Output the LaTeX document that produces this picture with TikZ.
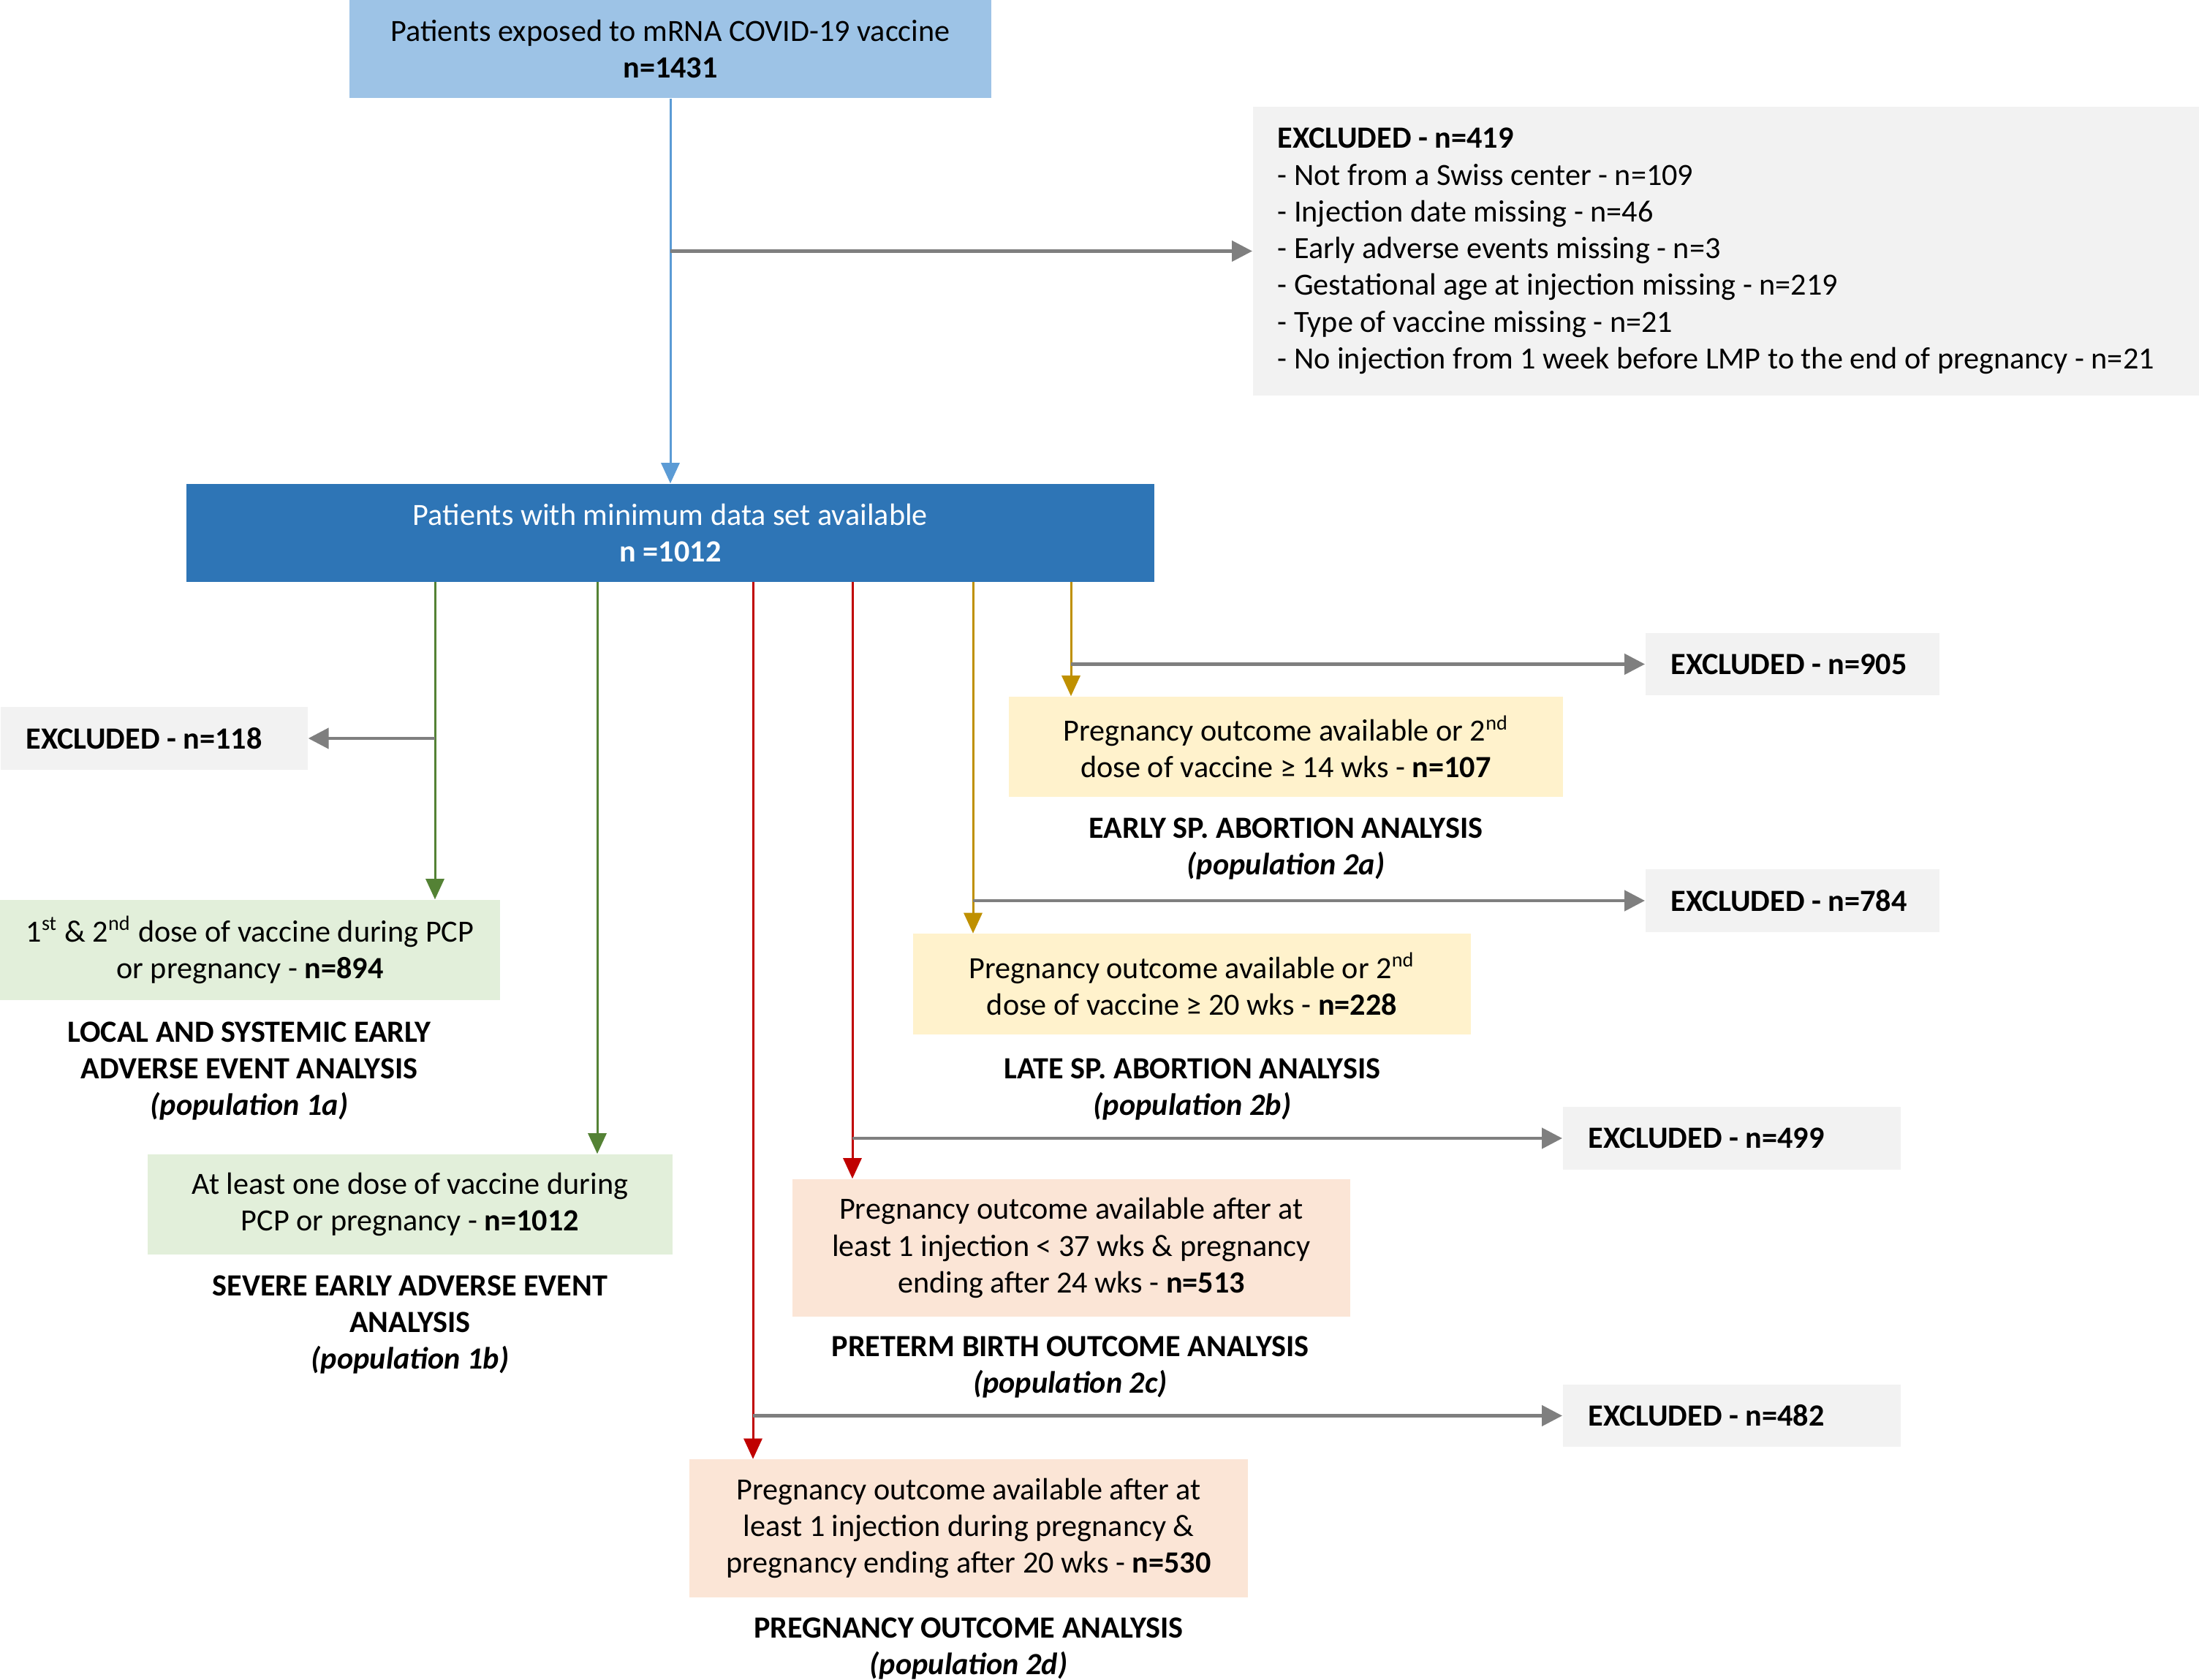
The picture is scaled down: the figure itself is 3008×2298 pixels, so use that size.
\documentclass[tikz,border=0pt]{standalone}
\usepackage{fontspec}
\setmainfont{Carlito}
\usetikzlibrary{arrows.meta,positioning}
\definecolor{lblue}{HTML}{9DC3E6}
\definecolor{dblue}{HTML}{2E75B6}
\definecolor{ablue}{HTML}{5B9BD5}
\definecolor{exgray}{HTML}{F2F2F2}
\definecolor{exline}{HTML}{7F7F7F}
\definecolor{grfill}{HTML}{E2EFDA}
\definecolor{grline}{HTML}{548235}
\definecolor{ylfill}{HTML}{FFF2CC}
\definecolor{ylline}{HTML}{BF9000}
\definecolor{rdfill}{HTML}{FBE5D6}
\definecolor{rdline}{HTML}{C00000}

\begin{document}
\begin{tikzpicture}[x=0.01cm,y=-0.01cm,
  every node/.style={font=\fontsize{12}{14.3}\selectfont,align=center,inner sep=0pt},
  topbox/.style={fill=lblue,minimum width=8.78cm,minimum height=1.34cm},
  mainbox/.style={fill=dblue,text=white,minimum width=13.24cm,minimum height=1.34cm},
  exbox/.style={fill=exgray,font=\fontsize{12}{14.3}\selectfont\bfseries,align=flush left,inner xsep=0.35cm,minimum height=0.85cm,anchor=west},
  grbox/.style={fill=grfill,minimum height=1.37cm},
  ylbox/.style={fill=ylfill,minimum height=1.37cm},
  rdbox/.style={fill=rdfill,minimum height=1.88cm},
  lab/.style={font=\fontsize{12}{14.3}\selectfont\bfseries},
  conn/.style={line width=0.85pt,-{Triangle[length=0.28cm,width=0.25cm]}},
  exarr/.style={draw=exline,line width=1.3pt,-{Triangle[length=0.28cm,width=0.28cm]}}]
\useasboundingbox (0,0) rectangle (3008,2298);
\node[topbox] (top) at (917,67) {Patients exposed to mRNA COVID-19 vaccine\\\textbf{n=1431}};
\node[mainbox] (mds) at (917,729) {Patients with minimum data set available\\\textbf{n =1012}};
\node[exbox,font=\fontsize{12}{14.3}\selectfont,text width=12.27cm,inner xsep=0.34cm,minimum height=3.95cm] (ex419) at (1713,343.5)
  {\textbf{EXCLUDED - n=419}\\- Not from a Swiss center - n=109\\- Injection date missing - n=46\\- Early adverse events missing - n=3\\- Gestational age at injection missing - n=219\\- Type of vaccine missing - n=21\\- No injection from 1 week before LMP to the end of pregnancy - n=21};

\coordinate (g1) at (595,796);
\coordinate (g2) at (817,796);
\coordinate (r1) at (1030,796);
\coordinate (r2) at (1166,796);
\coordinate (y1) at (1331,796);
\coordinate (y2) at (1465,796);

\node[exbox,text width=3.5cm] (ex118) at (0,1010) {EXCLUDED - n=118};
\node[exbox,text width=3.32cm] (ex905) at (2250,908.5) {EXCLUDED - n=905};
\node[exbox,text width=3.32cm] (ex784) at (2250,1232) {EXCLUDED - n=784};
\node[exbox,text width=3.92cm] (ex499) at (2137,1557) {EXCLUDED - n=499};
\node[exbox,text width=3.92cm] (ex482) at (2137,1936.5) {EXCLUDED - n=482};

\node[grbox,minimum width=6.84cm] (pop1a) at (342,1299.5) {1\textsuperscript{st} \& 2\textsuperscript{nd} dose of vaccine during PCP\\or pregnancy - \textbf{n=894}};
\node[lab] (lab1a) at (341,1465) {LOCAL AND SYSTEMIC EARLY\\ADVERSE EVENT ANALYSIS\\\textit{(population 1a)}};
\node[grbox,minimum width=7.18cm] (pop1b) at (561,1647.5) {At least one dose of vaccine during\\PCP or pregnancy - \textbf{n=1012}};
\node[lab] (lab1b) at (561,1812) {SEVERE EARLY ADVERSE EVENT\\ANALYSIS\\\textit{(population 1b)}};

\node[ylbox,minimum width=7.58cm] (pop2a) at (1759,1021.5) {Pregnancy outcome available or 2\textsuperscript{nd}\\dose of vaccine ≥ 14 wks - \textbf{n=107}};
\node[lab] (lab2a) at (1759,1161) {EARLY SP. ABORTION ANALYSIS\\\textit{(population 2a)}};
\node[ylbox,minimum width=7.63cm] (pop2b) at (1630.5,1346) {Pregnancy outcome available or 2\textsuperscript{nd}\\dose of vaccine ≥ 20 wks - \textbf{n=228}};
\node[lab] (lab2b) at (1631,1490) {LATE SP. ABORTION ANALYSIS\\\textit{(population 2b)}};

\node[rdbox,minimum width=7.63cm] (pop2c) at (1465.5,1707) {Pregnancy outcome available after at\\least 1 injection < 37 wks \& pregnancy\\ending after 24 wks - \textbf{n=513}};
\node[lab] (lab2c) at (1464,1870) {PRETERM BIRTH OUTCOME ANALYSIS\\\textit{(population 2c)}};
\node[rdbox,minimum width=7.64cm] (pop2d) at (1325,2090.5) {Pregnancy outcome available after at\\least 1 injection during pregnancy \&\\pregnancy ending after 20 wks - \textbf{n=530}};
\node[lab] (lab2d) at (1325,2255) {PREGNANCY OUTCOME ANALYSIS\\\textit{(population 2d)}};

\draw[conn,ablue] (top.south) -- (mds.north);
\draw[exarr] (top.south |- ex419.west) -- (ex419.west);
\draw[conn,grline] (g1) -- (g1 |- pop1a.north);
\draw[conn,grline] (g2) -- (g2 |- pop1b.north);
\draw[conn,rdline] (r1) -- (r1 |- pop2d.north);
\draw[conn,rdline] (r2) -- (r2 |- pop2c.north);
\draw[conn,ylline] (y1) -- (y1 |- pop2b.north);
\draw[conn,ylline] (y2) -- (y2 |- pop2a.north);
\draw[exarr] (g1 |- ex118.east) -- (ex118.east);
\draw[exarr] (y2 |- ex905.west) -- (ex905.west);
\draw[exarr] (y1 |- ex784.west) -- (ex784.west);
\draw[exarr] (r2 |- ex499.west) -- (ex499.west);
\draw[exarr] (r1 |- ex482.west) -- (ex482.west);
\end{tikzpicture}
\end{document}
